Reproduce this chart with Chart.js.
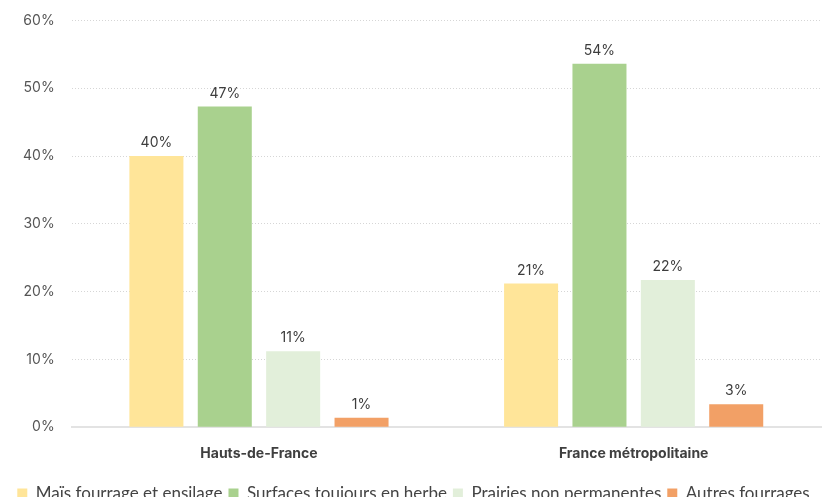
<!DOCTYPE html>
<html>
<head>
<meta charset="utf-8">
<script src="https://cdn.jsdelivr.net/npm/chart.js@4"></script>
<style>
  html, body { margin: 0; padding: 0; background: #fff; height: 497px; overflow: hidden; }
  #wrap { width: 822px; height: 517px; margin-top: -5px; }
</style>
</head>
<body>
<div id="wrap"><canvas id="chart" width="822" height="517"></canvas></div>
<script>
// categories and series (percentages)
const regions = ['Hauts-de-France', 'France métropolitaine'];
const seriesNames = ['Maïs fourrage et ensilage', 'Surfaces toujours en herbe', 'Prairies non permanentes', 'Autres fourrages'];
const mais = [40.0, 21.2];
const surfaces = [47.3, 53.6];
const prairies = [11.2, 21.7];
const autres = [1.4, 3.4];
const colors = ['#FFE599', '#A9D18E', '#E2EFDA', '#F2A066'];

const yTicks = { min: 0, max: 60, step: 10 };

// small plugin for the value labels above bars
const valueLabels = {
    id: 'valueLabels',
    afterDatasetsDraw(chart) {
        const ctx = chart.ctx;
        ctx.save();
        ctx.font = '14px Inter, sans-serif';
        ctx.fillStyle = '#3d3d3d';
        ctx.textAlign = 'center';
        ctx.textBaseline = 'bottom';
        chart.data.datasets.forEach((ds, i) => {
            chart.getDatasetMeta(i).data.forEach((bar, j) => {
                ctx.fillText(Math.round(ds.data[j]) + '%', bar.x, bar.y - 6);
            });
        });
        ctx.restore();
    }
};

const series = [mais, surfaces, prairies, autres];

new Chart(document.getElementById('chart').getContext('2d'), {
    type: 'bar',
    data: {
        labels: regions,
        datasets: series.map((data, i) => ({
            label: seriesNames[i],
            data,
            backgroundColor: colors[i],
            categoryPercentage: 0.73,
            barPercentage: 0.79
        }))
    },
    options: {
        responsive: false,
        animation: false,
        layout: { padding: { top: 2, left: 6, right: 1, bottom: 0 } },
        scales: {
            x: {
                grid: { display: false },
                border: { color: '#e3e3e3', width: 2 },
                ticks: {
                    color: '#3f3f3f',
                    padding: 10,
                    font: { family: 'Inter, sans-serif', size: 14, weight: 'bold' }
                },
                afterFit: (scale) => { scale.height += 7; }
            },
            y: {
                min: yTicks.min,
                max: yTicks.max,
                grid: { color: '#d6d6d6', drawTicks: false, lineWidth: 1 },
                border: { display: false, dash: [1, 2] },
                ticks: {
                    stepSize: yTicks.step,
                    padding: 17,
                    color: '#555555',
                    font: { family: 'Inter, sans-serif', size: 14 },
                    callback: (v) => v + '%'
                }
            }
        },
        plugins: {
            legend: {
                position: 'bottom',
                labels: {
                    boxWidth: 10,
                    boxHeight: 10,
                    padding: 6,
                    color: '#444444',
                    font: { family: 'Lato, sans-serif', size: 17 }
                }
            },
            tooltip: { enabled: false }
        }
    },
    plugins: [valueLabels]
});
</script>
</body>
</html>
